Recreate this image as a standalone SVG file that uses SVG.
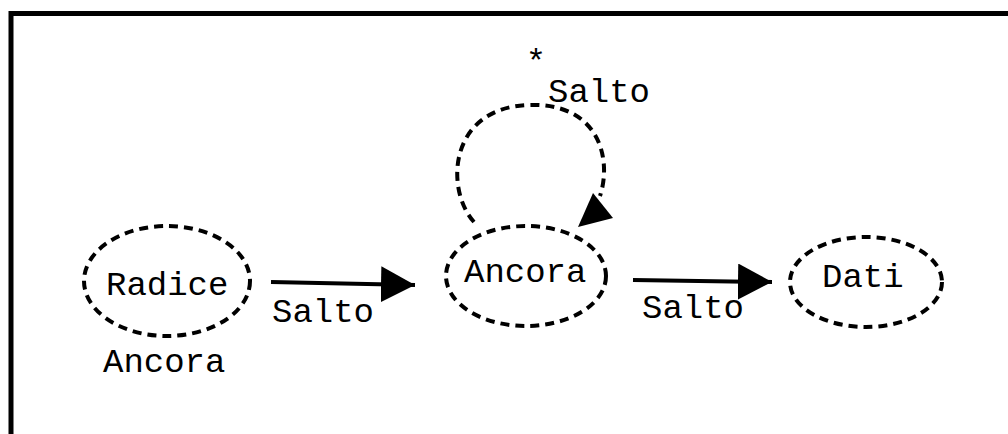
<svg xmlns="http://www.w3.org/2000/svg" width="1008" height="434" viewBox="0 0 1008 434">
  <style>
    .node { fill: none; stroke: #000; stroke-width: 4; stroke-dasharray: 9 6; }
    .edge { fill: none; stroke: #000; stroke-width: 4; }
    .loop { fill: none; stroke: #000; stroke-width: 4; stroke-dasharray: 9 6; }
    text { font-family: "Liberation Mono", "Courier New", monospace; font-size: 34px; fill: #000; }
  </style>
  <defs>
    <marker id="head" markerUnits="userSpaceOnUse" viewBox="0 0 34 36" refX="34" refY="18" markerWidth="34" markerHeight="36" orient="auto">
      <path d="M0 0 L34 18 L0 36 Z" fill="#000"/>
    </marker>
  </defs>

  <rect width="1008" height="434" fill="#fff"/>
  <!-- outer frame, running off the right and bottom edges -->
  <path d="M11 440 L11 13.5 L1020 13.5" fill="none" stroke="#000" stroke-width="5"/>

  <g id="connectors">
    <line class="edge" x1="271" y1="282" x2="415" y2="285" marker-end="url(#head)"/>
    <line class="edge" x1="633" y1="280" x2="772" y2="282" marker-end="url(#head)"/>
    <path class="loop" d="M474 222 C445 190 448 108 528 105 C600 102 612 160 600 196"/>
    <path d="M593 193 L613 218 L578 227 Z" fill="#000"/>
    <text x="272" y="322">Salto</text>
    <text x="642" y="318">Salto</text>
    <text x="548" y="102">Salto</text>
    <text x="536" y="72" text-anchor="middle">*</text>
  </g>

  <g id="radice">
    <ellipse class="node" cx="167" cy="281" rx="83" ry="55"/>
    <text x="106" y="295">Radice</text>
    <text x="103" y="372">Ancora</text>
  </g>

  <g id="ancora">
    <ellipse class="node" cx="526" cy="276" rx="80" ry="50"/>
    <text x="464" y="282">Ancora</text>
  </g>

  <g id="dati">
    <ellipse class="node" cx="866" cy="282" rx="76" ry="45"/>
    <text x="822" y="287">Dati</text>
  </g>
</svg>
